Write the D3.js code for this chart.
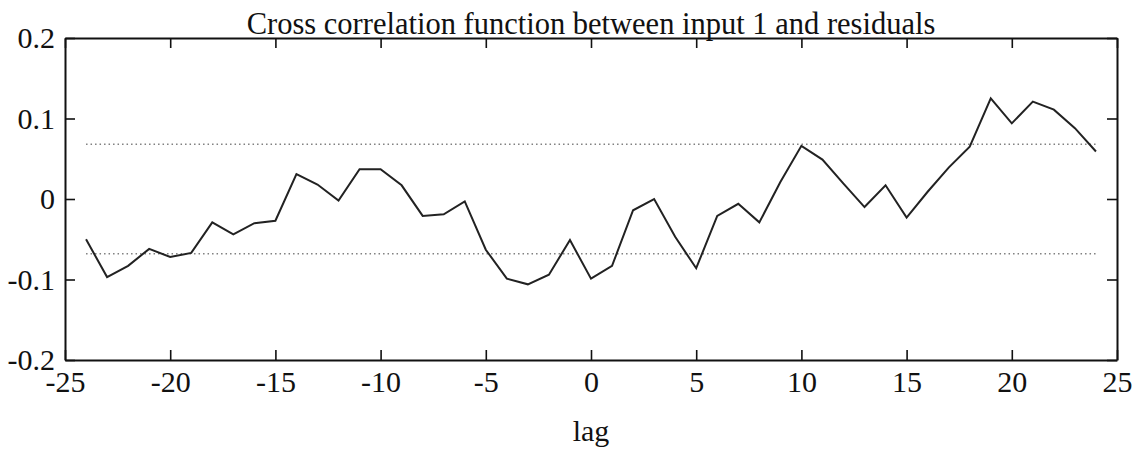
<!DOCTYPE html>
<html>
<head>
<meta charset="utf-8">
<script src="https://cdnjs.cloudflare.com/ajax/libs/d3/7.8.5/d3.min.js"></script>
<style>
    body { margin: 0; background: #fff; }
    text { font-family: "Liberation Serif", "DejaVu Serif", serif; fill: #111; }
</style>
</head>
<body>
<script>
// lags -24..24 and the cross correlation
var lags = d3.range(-24, 25);
var ccf = [
    -0.050, -0.097, -0.083, -0.062, -0.072, -0.067, -0.029, -0.044, -0.030, -0.027,
     0.031,  0.018, -0.002,  0.037,  0.037,  0.017, -0.021, -0.019, -0.003, -0.063,
    -0.099, -0.106, -0.094, -0.051, -0.099, -0.083, -0.014,  0.000, -0.047, -0.086,
    -0.021, -0.006, -0.029,  0.021,  0.066,  0.049,  0.019, -0.010,  0.017, -0.023,
     0.009,  0.039,  0.065,  0.125,  0.094,  0.121,  0.111,  0.088,  0.059
];
var confBounds = [0.068, -0.068];
var xTicks = [-25, -20, -15, -10, -5, 0, 5, 10, 15, 20, 25];
var xTickLabels = ['-25', '-20', '-15', '-10', '-5', '0', '5', '10', '15', '20', '25'];
var yTicks = [-0.2, -0.1, 0, 0.1, 0.2];
var yTickLabels = ['-0.2', '-0.1', '0', '0.1', '0.2'];

var title = 'Cross correlation function between input 1 and residuals';
var xLabel = 'lag';

// Graphic properties
var width = 1137, height = 452;
var margin = { top: 38, right: 20, bottom: 92, left: 65 };
var plotW = width - margin.left - margin.right;
var plotH = height - margin.top - margin.bottom;
var fontSize = 30;

var svg = d3.select('body').append('svg')
    .attr('width', width)
    .attr('height', height);

var g = svg.append('g')
    .attr('transform', 'translate(' + margin.left + ',' + margin.top + ')');

var x = d3.scaleLinear().domain([-25, 25]).range([0, plotW]);
var y = d3.scaleLinear().domain([-0.2, 0.2]).range([plotH, 0]);

// confidence bounds, dotted
g.selectAll('.bound')
    .data(confBounds)
    .enter().append('line')
    .attr('class', 'bound')
    .attr('x1', x(lags[0]))
    .attr('x2', x(lags[lags.length - 1]))
    .attr('y1', function (d) { return y(d); })
    .attr('y2', function (d) { return y(d); })
    .attr('stroke', '#808080')
    .attr('stroke-width', 1.5)
    .attr('stroke-dasharray', '1.5,3');

var line = d3.line()
    .x(function (d, i) { return x(lags[i]); })
    .y(function (d) { return y(d); });

g.append('path')
    .datum(ccf)
    .attr('d', line)
    .attr('fill', 'none')
    .attr('stroke', '#222')
    .attr('stroke-width', 2)
    .attr('stroke-linejoin', 'miter');

// axes: ticks point inward on all four sides
var tickLen = 10;

var xBottom = g.append('g')
    .attr('transform', 'translate(0,' + plotH + ')')
    .call(d3.axisBottom(x).tickValues(xTicks).tickSizeInner(-tickLen).tickSizeOuter(0).tickPadding(11)
        .tickFormat(function (d, i) { return xTickLabels[i]; }));

var xTop = g.append('g')
    .call(d3.axisTop(x).tickValues(xTicks).tickSizeInner(-tickLen).tickSizeOuter(0).tickFormat(''));

var yLeft = g.append('g')
    .call(d3.axisLeft(y).tickValues(yTicks).tickSizeInner(-tickLen).tickSizeOuter(0).tickPadding(10)
        .tickFormat(function (d, i) { return yTickLabels[i]; }));

var yRight = g.append('g')
    .attr('transform', 'translate(' + plotW + ',0)')
    .call(d3.axisRight(y).tickValues(yTicks).tickSizeInner(-tickLen).tickSizeOuter(0).tickFormat(''));

[xBottom, xTop, yLeft, yRight].forEach(function (ax) {
    ax.attr('font-size', fontSize).attr('font-family', '"Liberation Serif", serif');
    ax.selectAll('path.domain').attr('stroke', '#111').attr('stroke-width', 2);
    ax.selectAll('.tick line').attr('stroke', '#111').attr('stroke-width', 1.6);
    ax.selectAll('.tick text').attr('fill', '#111');
});

// title and axis label
svg.append('text')
    .attr('x', margin.left + x(0))
    .attr('y', 34)
    .attr('text-anchor', 'middle')
    .attr('font-size', 30.5)
    .text(title);

svg.append('text')
    .attr('x', margin.left + x(0))
    .attr('y', 441)
    .attr('text-anchor', 'middle')
    .attr('font-size', fontSize)
    .text(xLabel);
</script>
</body>
</html>
